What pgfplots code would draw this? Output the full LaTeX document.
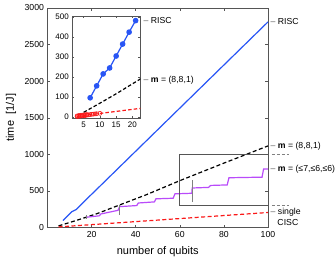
\documentclass[border=0pt]{standalone}
\usepackage{pgfplots}
\pgfplotsset{compat=1.18}
\usepackage{fontspec}
\setmainfont{Liberation Sans}
\definecolor{rblue}{RGB}{40,85,245}
\definecolor{rred}{RGB}{250,25,25}
\definecolor{rpurple}{RGB}{185,75,250}
\definecolor{axgray}{RGB}{85,85,85}
\pgfplotsset{
  every axis/.append style={
    axis line style={axgray},
    every tick/.style={axgray},
    tick align=inside,
    major tick length=3pt,
    /pgf/number format/assume math mode=true,
    /pgf/number format/1000 sep={},
    scaled ticks=false,
  }
}
\begin{document}
\begin{tikzpicture}
\useasboundingbox (-47.5pt,-30.5pt) rectangle (287.5pt,227.5pt);
\begin{axis}[name=main, at={(0pt,0pt)}, anchor=south west, scale only axis,
  width=220.5pt, height=219.5pt,
  xmin=0, xmax=100, ymin=0, ymax=3000,
  xtick={20,40,60,80,100}, ytick={0,500,...,3000},
  tick label style={font=\fontsize{8.7}{10}\selectfont},
  xlabel={number of qubits}, ylabel={time\ \ [1/J]},
  label style={font=\fontsize{11}{13}\selectfont},
  xlabel style={yshift=-2.5pt},
  ylabel style={yshift=1.5pt},
  clip=false]
% RISC
\addplot[rblue, line width=1.2pt] coordinates {(7,95) (9,155) (11,215) (13,245) (15,305) (17,365) (19,425) (21,483) (100,2810)};
% m=(8,8,1)
\addplot[black, line width=1.2pt, dash pattern=on 4pt off 2.5pt] coordinates {(5,22) (10,68) (15,115) (22.5,190) (32,300) (45,450) (60,640) (80,880) (100,1115)};
% single CISC
\addplot[rred, line width=1.2pt, dash pattern=on 4pt off 2.5pt] coordinates {(5,8) (100,205)};
% m=(<=7,<=6,<=6)
\addplot[rpurple, line width=1.2pt] coordinates {(17.5,140) (23.5,160) (24.2,185) (32,235) (32.7,285) (40.5,300) (41.2,335) (48.5,350) (49.2,392) (57,400) (57.8,460) (65.5,468) (65.6,540) (73,548) (74,575) (81.5,582) (82.3,680) (97.3,688) (98,800) (100,800)};
% grey marks
\addplot[gray, line width=0.6pt] coordinates {(17.5,120) (17.5,175)};
\addplot[gray, line width=0.6pt] coordinates {(32.7,170) (32.7,310)};
\addplot[gray, line width=0.6pt] coordinates {(65.5,347) (65.5,645)};
% zoom box
\addplot[axgray, line width=0.6pt] coordinates {(60,300) (100,300) (100,1000) (60,1000) (60,300)};
\draw[gray, dash pattern=on 3pt off 2pt] (axis cs:100,1000) ++(4pt,0) -- ++(17pt,0);
\draw[gray, dash pattern=on 3pt off 2pt] (axis cs:100,300) ++(4pt,0) -- ++(17pt,0);
% labels
\begin{scope}[every node/.style={font=\fontsize{8.7}{10}\selectfont, anchor=west, inner sep=0pt}]
\node at ([xshift=2.5pt]axis cs:100,2810) {{\color{axgray}–} RISC};
\node at ([xshift=2.5pt]axis cs:100,1114) {{\color{axgray}–} \textbf{m} = (8,8,1)};
\node at ([xshift=2.5pt]axis cs:100,800) {{\color{axgray}–} \textbf{m} = (≤7,≤6,≤6)};
\node at ([xshift=2.5pt]axis cs:100,205) {{\color{axgray}–} single};
\node at ([xshift=9.3pt]axis cs:100,75) {CISC};
\end{scope}
\end{axis}
\begin{axis}[name=inset, at={(24.8pt,109.2pt)}, anchor=south west, scale only axis,
  width=68.2pt, height=102.3pt,
  xmin=1.5, xmax=22.5, ymin=-8, ymax=506,
  xtick={5,10,15,20}, ytick={0,100,...,500},
  major tick length=2pt,
  tick label style={font=\fontsize{8}{9}\selectfont},
  axis background/.style={fill=white},
  clip=false]
\begin{scope}
\clip (rel axis cs:0,0) rectangle (rel axis cs:1,1);
\addplot[black, line width=1.2pt, dash pattern=on 3.5pt off 2.2pt] coordinates {(5,22) (10,68) (15,115) (22.5,190)};
\addplot[rred, line width=1.2pt, dash pattern=on 3.5pt off 2.2pt] coordinates {(3,2) (22.5,42)};
\addplot[rred, only marks, mark=o, mark size=2pt, line width=0.6pt] coordinates {(3,1) (3,4) (3.5,2) (3.5,6) (4,3) (4,7) (4.5,4) (4.5,8) (5,5) (5,9) (5.5,6) (5.5,10) (6,8) (6,11) (6.5,9) (7,11) (7.5,12) (8,13) (8.5,14) (9,15) (10,17)};
\addplot[rblue, line width=1.2pt, mark=*, mark size=2.2pt] coordinates {(7,95) (9,155) (11,215) (13,245) (15,305) (17,365) (19,425) (21,483)};
\end{scope}
\begin{scope}[every node/.style={font=\fontsize{8.7}{10}\selectfont, anchor=west, inner sep=0pt}]
\node at ([xshift=3pt]axis cs:22.5,483) {{\color{axgray}–} RISC};
\node at ([xshift=3pt]axis cs:22.5,185) {{\color{axgray}–} \textbf{m} = (8,8,1)};
\end{scope}
\end{axis}
\end{tikzpicture}
\end{document}
